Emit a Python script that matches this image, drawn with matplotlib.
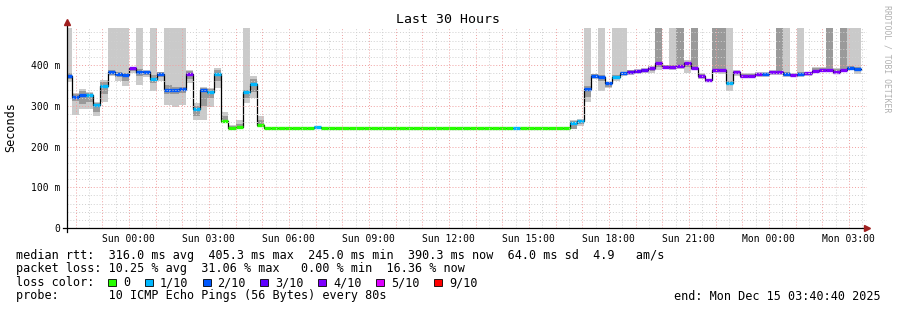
"""SmokePing style latency chart (Last 30 Hours)."""
import numpy as np
import matplotlib
matplotlib.use("Agg")
import matplotlib.pyplot as plt
from matplotlib.patches import Rectangle

plt.rcParams["font.family"] = "DejaVu Sans Mono"

W, H = 897, 310

# time axis in hours relative to Sun 00:00, rrd step is 16 min
t_start = -(2 + 19 / 60 + 20 / 3600)   # Sat 21:40:40
t_end = 27 + 40 / 60 + 40 / 3600       # Mon 03:40:40
step_h = 16 / 60
first_bin = -9                         # Sat 21:36

tick_hours = [0, 3, 6, 9, 12, 15, 18, 21, 24, 27]
tick_labels = ["Sun 00:00", "Sun 03:00", "Sun 06:00", "Sun 09:00", "Sun 12:00",
               "Sun 15:00", "Sun 18:00", "Sun 21:00", "Mon 00:00", "Mon 03:00"]

# median rtt per bin (ms)
median = ([373, 322, 326, 326, 302, 348, 383, 379, 375, 392, 384, 383, 367, 379,
           340, 339, 341, 377, 291, 338, 335, 377, 263, 246, 248, 333, 353, 253]
          + [245] * 7 + [247] + [245] * 35
          + [258, 263, 341, 374, 370, 355, 370, 381, 384, 386, 388, 392, 406, 396,
             396, 397, 404, 394, 374, 363, 388, 388, 357, 382, 374, 374, 378, 378,
             382, 382, 378, 375, 378, 380, 386, 388, 388, 384, 388, 394, 390])

# loss class per bin (index into loss_labels)
loss = ([2, 2, 2, 1, 1, 1, 2, 2, 2, 4, 2, 2, 1, 2, 2, 2, 2, 4, 1, 2, 1, 1, 0, 0,
         0, 1, 1, 0]
        + [0] * 7 + [1] + [0] * 27 + [1] + [0] * 7
        + [1, 1, 2, 2, 2, 2, 1, 2, 3, 3, 3, 4, 4, 4, 4, 4, 4, 4, 4, 4, 4, 4, 1, 4,
           4, 4, 4, 2, 4, 4, 2, 4, 2, 4, 4, 4, 4, 4, 4, 2, 2])

# smoke: outer (light) and inner (darker) ranges per bin
outer_lo = ([358, 278, 292, 292, 275, 310, 372, 360, 348, 380, 351, 370, 337, 360,
             302, 296, 302, 355, 265, 265, 298, 343, 257, 245, 245, 306, 318, 247]
            + [245] * 43
            + [242, 250, 310, 367, 337, 344, 360, 372, 376, 378, 380, 380, 388, 390,
               388, 390, 381, 388, 366, 358, 380, 378, 337, 372, 368, 368, 370, 370,
               376, 376, 370, 370, 370, 374, 380, 382, 382, 378, 382, 388, 377])
outer_hi = ([490, 332, 342, 335, 310, 363, 490, 490, 490, 396, 490, 388, 490, 384,
             490, 490, 490, 388, 306, 347, 344, 392, 285, 253, 265, 490, 372, 275]
            + [245] * 7 + [250] + [245] * 35
            + [265, 268, 490, 378, 490, 359, 490, 490, 388, 390, 392, 398, 490, 400,
               490, 490, 412, 490, 380, 367, 490, 490, 490, 388, 380, 380, 383, 383,
               388, 490, 490, 380, 490, 384, 395, 395, 490, 392, 490, 490, 490])
inner_lo = ([365, 312, 305, 310, 285, 330, 375, 370, 362, 385, 372, 375, 355, 370,
             330, 330, 332, 365, 275, 300, 318, 360, 259, 245, 246, 320, 335, 249]
            + [245] * 43
            + [244, 255, 322, 369, 360, 347, 365, 376, 379, 382, 384, 385, 395, 392,
               392, 392, 395, 390, 369, 359, 384, 384, 350, 377, 370, 370, 374, 374,
               379, 379, 374, 372, 374, 377, 383, 385, 385, 381, 385, 390, 385])
inner_hi = ([380, 328, 336, 332, 306, 358, 387, 384, 380, 395, 390, 386, 376, 383,
             350, 345, 346, 385, 300, 344, 341, 388, 275, 250, 255, 340, 366, 265]
            + [245] * 43
            + [262, 266, 349, 377, 376, 358, 375, 384, 387, 389, 391, 396, 490, 399,
               400, 490, 408, 490, 378, 366, 490, 490, 362, 386, 378, 378, 381, 381,
               386, 490, 384, 378, 382, 383, 392, 392, 490, 390, 490, 398, 396])

loss_labels = ["0", "1/10", "2/10", "3/10", "4/10", "5/10", "9/10"]
loss_colors = ["#26ff00", "#00b8ff", "#0059ff", "#5e00ff", "#7e00ff", "#dd00ff", "#ff0000"]

stats_lines = [
    "median rtt:  316.0 ms avg  405.3 ms max  245.0 ms min  390.3 ms now  64.0 ms sd  4.9   am/s",
    "packet loss: 10.25 % avg  31.06 % max   0.00 % min  16.36 % now",
]
probe_line = "probe:       10 ICMP Echo Pings (56 Bytes) every 80s"
end_text = "end: Mon Dec 15 03:40:40 2025"

median = np.array(median, dtype=float)
outer_lo, outer_hi = np.array(outer_lo, float), np.array(outer_hi, float)
inner_lo, inner_hi = np.array(inner_lo, float), np.array(inner_hi, float)
left = (first_bin + np.arange(len(median))) * step_h


def px(x, y):
    return x / W, 1 - y / H


fig = plt.figure(figsize=(W / 100, H / 100), dpi=100)
ax = fig.add_axes([67 / W, 1 - 228 / H, 800 / W, 200 / H])
ax.set_xlim(t_start, t_end)
ax.set_ylim(0, 491)

# smoke
ax.bar(left, outer_hi - outer_lo, bottom=outer_lo, width=step_h, align="edge",
       color="#cacaca", linewidth=0, zorder=1)
ax.bar(left, inner_hi - inner_lo, bottom=inner_lo, width=step_h, align="edge",
       color="#9a9a9a", linewidth=0, zorder=2)

# median line, coloured by loss
ax.step(np.append(left, left[-1] + step_h), np.append(median, median[-1]),
        where="post", color="black", lw=0.9, zorder=3)
ax.hlines(median, left, left + step_h, colors=[loss_colors[i] for i in loss],
          lw=2.4, zorder=4)

# grid (rrdtool style dotted)
for hh in np.arange(-2, 28, 0.5):
    major = float(hh).is_integer()
    ax.axvline(hh, color="#f0a0a0" if major else "#d0d0d0", lw=0.7,
               ls=(0, (1, 2)), zorder=5)
for yy in range(20, 491, 20):
    major = yy % 100 == 0
    ax.axhline(yy, color="#f0a0a0" if major else "#d0d0d0", lw=0.7,
               ls=(0, (1, 2)), zorder=5)

for s in ax.spines.values():
    s.set_visible(False)

# axes with arrows
ax.plot([-0.005, 0.996], [0, 0], transform=ax.transAxes, color="black", lw=0.9,
        clip_on=False, zorder=6)
ax.plot([0, 0], [-0.02, 1.02], transform=ax.transAxes, color="black", lw=0.9,
        clip_on=False, zorder=6)
ax.plot([1.0], [0], transform=ax.transAxes, marker=">", ms=5, color="#a02020",
        clip_on=False, zorder=7)
ax.plot([0], [1.03], transform=ax.transAxes, marker="^", ms=5, color="#a02020",
        clip_on=False, zorder=7)

ax.set_xticks(tick_hours)
ax.set_xticklabels(tick_labels, fontsize=7)
ax.set_yticks([0, 100, 200, 300, 400])
ax.set_yticklabels(["0", "100 m", "200 m", "300 m", "400 m"], fontsize=7)
ax.tick_params(axis="x", length=0, pad=4)
ax.tick_params(axis="y", length=0, pad=5)

# titles
fig.text(*px(448, 19.5), "Last 30 Hours", ha="center", va="center", fontsize=9.5)
fig.text(*px(10.5, 127), "Seconds", rotation=90, ha="center", va="center", fontsize=8.5)
fig.text(*px(887, 59), "RRDTOOL / TOBI OETIKER", rotation=270, ha="center",
         va="center", fontsize=5.9, color="#b0b0b0")

# legend block
for i, line in enumerate(stats_lines):
    fig.text(*px(16, 255 + 13.7 * i), line, ha="left", va="center", fontsize=8.5)
fig.text(*px(16, 282.5), "loss color:", ha="left", va="center", fontsize=8.5)
cx = 108
for lab, col in zip(loss_labels, loss_colors):
    fig.add_artist(Rectangle(px(cx, 286), 8 / W, 7 / H, transform=fig.transFigure,
                             facecolor=col, edgecolor="black", lw=0.6))
    fig.text(*px(cx + 15, 282.5), lab, ha="left", va="center", fontsize=8.5)
    cx += 15 + len(lab) * 7.1 + 14.5
fig.text(*px(16, 296), probe_line, ha="left", va="center", fontsize=8.5)
fig.text(*px(881, 296), end_text, ha="right", va="center", fontsize=8.5)

fig.savefig("out.png", dpi=100)
